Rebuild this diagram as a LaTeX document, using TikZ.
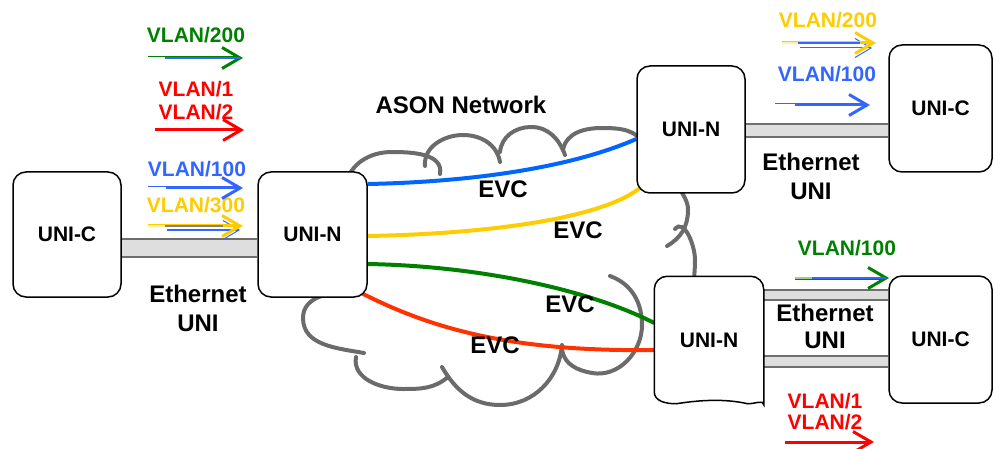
\documentclass[tikz,border=0pt]{standalone}
\usepackage{fontspec}
\setmainfont{Liberation Sans}
\usetikzlibrary{arrows.meta,calc}

\definecolor{cloudgray}{RGB}{107,107,107}
\definecolor{pipegray}{RGB}{110,110,110}
\definecolor{pipefill}{RGB}{222,222,222}
\definecolor{vgreen}{RGB}{0,128,0}
\definecolor{vred}{RGB}{255,0,0}
\definecolor{vblue}{RGB}{51,102,255}
\definecolor{vyellow}{RGB}{255,204,0}
\definecolor{evcblue}{RGB}{0,102,255}
\definecolor{evcred}{RGB}{255,51,0}
\definecolor{evcgreen}{RGB}{0,128,0}
\definecolor{evcyellow}{RGB}{255,204,0}
\definecolor{coregray}{RGB}{130,130,130}
\definecolor{lightgreen}{RGB}{150,210,130}
\definecolor{lightyellow}{RGB}{255,240,170}

\pgfdeclarelayer{cloudlayer}
\pgfdeclarelayer{boxlayer}
\pgfsetlayers{cloudlayer,boxlayer,main}

\tikzset{
  box/.style={draw=black, line width=1.5pt, fill=white, rounded corners=13pt,
    inner sep=0pt, font=\bfseries\fontsize{21}{25}\selectfont},
  boxline/.style={draw=black, line width=1.5pt},
  cloudline/.style={draw=cloudgray, line width=4pt, line cap=round},
  evc/.style={line width=4pt},
  pipe/.style={draw=pipegray, line width=1.8pt, double=pipefill},
  vlabel/.style={font=\bfseries\fontsize{21}{23}\selectfont, anchor=base,
    inner sep=0pt, align=center},
  biglabel/.style={font=\bfseries\fontsize{24}{29}\selectfont, anchor=base,
    inner sep=0pt, align=center},
  vlan/.style={line width=3pt, -{Straight Barb[length=18pt,width=21pt]}},
  thinvlan/.style={line width=1pt, -{Straight Barb[length=16pt,width=19pt]}},
  core/.style={line width=1.1pt},
}

\begin{document}
\begin{tikzpicture}[x=1pt,y=-1pt]
\useasboundingbox (0,0) rectangle (993,449);

% ---------- equipment boxes ----------
\node[box, minimum width=108pt, minimum height=125pt] (lc) at (67,234.5) {UNI-C};
\node[box, minimum width=109pt, minimum height=125pt] (ln) at (312.5,234.5) {UNI-N};
\node[box, minimum width=108pt, minimum height=127pt] (tn) at (691,129.5) {UNI-N};
\node[box, minimum width=103pt, minimum height=127pt] (tc) at (940.5,108.5) {UNI-C};
\node[box, minimum width=103pt, minimum height=127pt] (bc) at (940.5,339.5) {UNI-C};
\node[box, draw=none, fill=none, minimum width=108pt, minimum height=126pt] (bn) at (709,340) {UNI-N};

% lower UNI-N has a wavy bottom edge
\begin{pgfonlayer}{boxlayer}
\draw[boxline, fill=white, rounded corners=13pt]
  ($(bn.south west)+(0,-12)$) |- (bn.north east) -- ($(bn.south east)+(0,-12)$)
  [sharp corners] to[out=-90,in=0] ($(bn.south east)+(-16,0)$)
  .. controls +(-22,-5) and +(25,-4) .. ($(bn.south west)+(22,0)$)
  to[out=180,in=-90] ($(bn.south west)+(0,-12)$) -- cycle;
\end{pgfonlayer}

% ---------- ASON cloud, circuits and UNI links ----------
\begin{pgfonlayer}{cloudlayer}
\begin{scope}[cloudline]
\draw (345,185) to[out=75,in=180] (392,152) to[out=0,in=80] (440,174);
\draw (425,166) to[out=95,in=180] (463,135) to[out=0,in=100] (500,162);
\draw (500,152) to[out=85,in=180] (531,127) to[out=0,in=110] (565,155);
\draw (563,150) to[out=80,in=180] (602,128) to[out=0,in=120] (645,145);
\draw (679,186) to[out=-70,in=90] (688,210) to[out=-90,in=30] (667,246);
\draw (675,229) to[out=50,in=90] (695,260) to[out=-90,in=90] (694,285);
\draw (610,276) to[out=-20,in=90] (642,325) to[out=-90,in=-10] (592,373)
      to[out=170,in=-80] (562,350);
\draw (562,345) to[out=-95,in=0] (500,405) to[out=180,in=-60] (442,367);
\draw (448,377) to[out=-140,in=0] (403,389) to[out=180,in=-100] (356,357);
\draw (364,353) to[out=170,in=-90] (303,318) to[out=90,in=180] (350,292);
\end{scope}

\draw[evc, evcblue] (ln.east |- 0,184) .. controls (470,182) and (570,168) .. (tn.west |- 0,139);
\draw[evc, evcyellow] (ln.east |- 0,236) .. controls (480,234) and (600,220) .. ($(tn.south west)+(4,-6)$);
\draw[evc, evcgreen] (ln.east |- 0,264) .. controls (480,266) and (590,290) .. (bn.west |- 0,323);
\draw[evc, evcred] ($(ln.south east)+(-7,-5)$) .. controls (430,328) and (510,352) .. (bn.west |- 0,350);

\draw[pipe, double distance=16.4pt] (lc.east |- 0,248) -- (ln.west |- 0,248);
\draw[pipe, double distance=11.4pt] (tn.east |- 0,130.5) -- (tc.west |- 0,130.5);
\draw[pipe, double distance=8.4pt] (bn.east |- 0,295) -- (bc.west |- 0,295);
\draw[pipe, double distance=9.4pt] (bn.east |- 0,361.5) -- (bc.west |- 0,361.5);
\end{pgfonlayer}

% ---------- text (multi-line nodes sit on the baseline of their last line) ----------
\node[biglabel] (ason) at (461,114) {ASON Network};
\node[biglabel] (evc1) at (503,197) {EVC};
\node[biglabel] (evc2) at (578,239) {EVC};
\node[biglabel] (evc3) at (570,312) {EVC};
\node[biglabel] (evc4) at (495,353) {EVC};
\node[biglabel] (eth1) at (198,331) {Ethernet\\UNI};
\node[biglabel] (eth2) at (811,200) {Ethernet\\UNI};
\node[biglabel, font=\bfseries\fontsize{24}{27}\selectfont] (eth3) at (825,348) {Ethernet\\UNI};

\node[vlabel, text=vgreen] (l200) at (196,43) {VLAN/200};
\node[vlabel, text=vred] (l12) at (196,120) {VLAN/1\\VLAN/2};
\node[vlabel, text=vblue] (l100) at (197,177) {VLAN/100};
\node[vlabel, text=vyellow] (l300) at (196,213) {VLAN/300};
\node[vlabel, text=vyellow] (r200) at (828,28) {VLAN/200};
\node[vlabel, text=vblue] (r100) at (827,82) {VLAN/100};
\node[vlabel, text=vgreen] (b100) at (847,255) {VLAN/100};
\node[vlabel, text=vred, font=\bfseries\fontsize{21}{21}\selectfont] (b12) at (825,429) {VLAN/1\\VLAN/2};

% ---------- VLAN traffic arrows ----------
\coordinate (a1s) at (148,58);  \coordinate (a1e) at (243,58);
\coordinate (a2s) at (155,130); \coordinate (a2e) at (244,130);
\coordinate (a3s) at (148,188); \coordinate (a3e) at (243,188);
\coordinate (a4s) at (148,226); \coordinate (a4e) at (243,226);
\coordinate (a5s) at (782,43);  \coordinate (a5e) at (876,43);
\coordinate (a6s) at (775,105); \coordinate (a6e) at (870,105);
\coordinate (a7s) at (795,278); \coordinate (a7e) at (889,278);
\coordinate (a8s) at (785,442); \coordinate (a8e) at (874,442);

% VLAN/200 (left)
\draw[vlan, vgreen] (a1s) -- (a1e);
\draw[core, white] (a1s) -- ++(17,0);
\draw[core, vblue] ($(a1s)+(17,0)$) -- ($(a1e)+(-3,0)$);
% VLAN/1, VLAN/2 (left)
\draw[vlan, vred] (a2s) -- (a2e);
% VLAN/100 (left)
\draw[vlan, vblue] (a3s) -- (a3e);
\draw[core, white] (a3s) -- ++(18,0);
% VLAN/300 (left)
\draw[thinvlan, vblue] ($(a4s)+(19,4)$) -- ($(a4e)+(-3,4)$);
\draw[vlan, vyellow] (a4s) -- (a4e);
\draw[core, lightyellow] (a4s) -- ++(17,0);
\draw[core, coregray] ($(a4s)+(17,0)$) -- ($(a4e)+(-20,0)$);
% VLAN/200 (upper right)
\draw[thinvlan, vblue] ($(a5s)+(18,5)$) -- ($(a5e)+(-4,5)$);
\draw[vlan, vyellow] (a5s) -- (a5e);
\draw[core, lightyellow] (a5s) -- ++(16,0);
\draw[core, vblue] ($(a5s)+(16,0)$) -- ($(a5e)+(-16,0)$);
% VLAN/100 (upper right)
\draw[vlan, vblue] (a6s) -- (a6e);
\draw[core, white] (a6s) -- ++(20,0);
% VLAN/100 (lower right)
\draw[vlan, vgreen] (a7s) -- (a7e);
\draw[core, lightgreen] (a7s) -- ++(17,0);
\draw[core, vblue] ($(a7s)+(17,0)$) -- ($(a7e)+(-3,0)$);
% VLAN/1, VLAN/2 (lower right)
\draw[vlan, vred] (a8s) -- (a8e);
\end{tikzpicture}
\end{document}
